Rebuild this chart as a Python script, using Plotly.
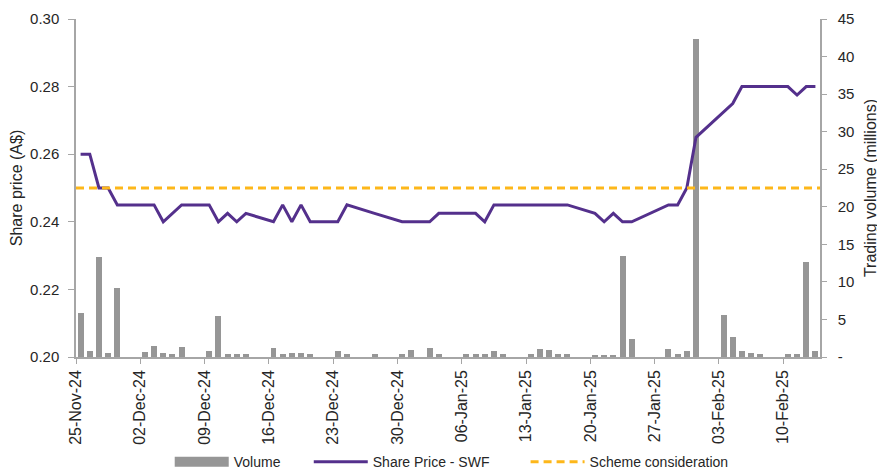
import plotly.graph_objects as go
import pandas as pd

# ---- data ----
dates = [
    "2024-11-25", "2024-11-26", "2024-11-27", "2024-11-28", "2024-11-29",
    "2024-12-02", "2024-12-03", "2024-12-04", "2024-12-05", "2024-12-06",
    "2024-12-09", "2024-12-10", "2024-12-11", "2024-12-12", "2024-12-13",
    "2024-12-16", "2024-12-17", "2024-12-18", "2024-12-19", "2024-12-20",
    "2024-12-23", "2024-12-24", "2024-12-27",
    "2024-12-30", "2024-12-31",
    "2025-01-02", "2025-01-03",
    "2025-01-06", "2025-01-07", "2025-01-08", "2025-01-09", "2025-01-10",
    "2025-01-13", "2025-01-14", "2025-01-15", "2025-01-16", "2025-01-17",
    "2025-01-20", "2025-01-21", "2025-01-22", "2025-01-23", "2025-01-24",
    "2025-01-28", "2025-01-29", "2025-01-30", "2025-01-31",
    "2025-02-03", "2025-02-04", "2025-02-05", "2025-02-06", "2025-02-07",
    "2025-02-10", "2025-02-11", "2025-02-12", "2025-02-13",
]

volume_millions = [
    5.9, 0.8, 13.3, 0.5, 9.2,
    0.7, 1.5, 0.5, 0.4, 1.35,
    0.8, 5.4, 0.4, 0.4, 0.4,
    1.25, 0.4, 0.5, 0.5, 0.4,
    0.75, 0.45, 0.45,
    0.45, 0.9,
    1.25, 0.45,
    0.45, 0.45, 0.45, 0.75, 0.45,
    0.45, 1.1, 0.9, 0.45, 0.45,
    0.3, 0.3, 0.3, 13.5, 2.45,
    1.07, 0.45, 0.75, 42.35,
    5.6, 2.6, 0.75, 0.5, 0.35,
    0.35, 0.35, 12.7, 0.8,
]

share_price = [
    0.26, 0.26, 0.25, 0.25, 0.245,
    0.245, 0.245, 0.24, 0.2425, 0.245,
    0.245, 0.24, 0.2425, 0.24, 0.2425,
    0.24, 0.245, 0.24, 0.245, 0.24,
    0.24, 0.245, 0.2425,
    0.24, 0.24,
    0.24, 0.2425,
    0.2425, 0.2425, 0.24, 0.245, 0.245,
    0.245, 0.245, 0.245, 0.245, 0.245,
    0.2425, 0.24, 0.2425, 0.24, 0.24,
    0.245, 0.245, 0.25, 0.265,
    0.2725, 0.275, 0.28, 0.28, 0.28,
    0.28, 0.2775, 0.28, 0.28,
]

scheme_consideration = 0.25

price_ticks = [0.20, 0.22, 0.24, 0.26, 0.28, 0.30]
volume_ticks = [0, 5, 10, 15, 20, 25, 30, 35, 40, 45]
volume_tick_text = ["-", "5", "10", "15", "20", "25", "30", "35", "40", "45"]

# ---- derived ----
d = pd.to_datetime(dates)
x_mid = d + pd.Timedelta(hours=12)           # each day's slot centre
x_start = d[0]
x_end = d[-1] + pd.Timedelta(days=1)
week_ticks = pd.date_range(x_start, x_end, freq="7D")

GREY = "#969696"
PURPLE = "#54308C"
ORANGE = "#FDB71A"
AXIS = "#A6A6A6"
TXT = "#262626"
FONT = "Liberation Sans, Arial, sans-serif"
NB = "\u00a0"

fig = go.Figure()

fig.add_trace(go.Bar(
    x=x_mid, y=volume_millions, name="Volume", showlegend=False,
    marker=dict(color=GREY, line=dict(width=0)),
    width=0.65 * 86400000, yaxis="y",
))
# legend entry for the volume bars (wide grey block as in the reference)
fig.add_trace(go.Scatter(
    x=[None], y=[None], name="Volume" + NB * 6, mode="lines",
    line=dict(color=GREY, width=14), yaxis="y",
))

fig.add_trace(go.Scatter(
    x=x_mid, y=share_price, name="Share Price - SWF" + NB * 8, mode="lines",
    line=dict(color=PURPLE, width=3), yaxis="y2",
))

fig.add_trace(go.Scatter(
    x=[x_start, x_end], y=[scheme_consideration, scheme_consideration],
    name="Scheme consideration", mode="lines",
    line=dict(color=ORANGE, width=3, dash="8px,5px"), yaxis="y2",
))

fig.update_layout(
    width=877, height=462,
    margin=dict(l=68, r=65, t=11, b=113, autoexpand=False),
    paper_bgcolor="white", plot_bgcolor="white",
    font=dict(family=FONT, size=15, color=TXT),
    bargap=0,
    showlegend=True,
    legend=dict(
        orientation="h", x=0.505, xanchor="center",
        yref="container", y=0.017, yanchor="middle",
        font=dict(family=FONT, size=14, color=TXT),
        bgcolor="rgba(0,0,0,0)",
        traceorder="normal", itemwidth=54,
    ),
    xaxis=dict(
        type="date", range=[x_start, x_end], automargin=False,
        tickvals=week_ticks, tickformat="%d-%b-%y", tickangle=-90,
        tickfont=dict(family=FONT, size=16, color=TXT),
        showline=True, linecolor=AXIS, linewidth=1.5,
        ticks="outside", ticklen=5, tickcolor=AXIS,
        showgrid=False, zeroline=False,
    ),
    yaxis=dict(
        side="right", range=[0, 45], tickvals=volume_ticks, ticktext=volume_tick_text,
        automargin=False,
        tickfont=dict(family=FONT, size=15, color=TXT),
        showline=True, linecolor=AXIS, linewidth=1.5,
        ticks="outside", ticklen=5, tickcolor=AXIS, ticklabelstandoff=8,
        showgrid=False, zeroline=False,
        title=dict(text="Trading volume (millions)",
                   font=dict(family=FONT, size=16, color=TXT), standoff=11),
    ),
    yaxis2=dict(
        overlaying="y", side="left", range=[0.20, 0.30], tickvals=price_ticks,
        tickformat=".2f", automargin=False,
        tickfont=dict(family=FONT, size=15, color=TXT),
        showline=True, linecolor=AXIS, linewidth=1.5,
        ticks="outside", ticklen=6, tickcolor=AXIS, ticklabelstandoff=6,
        showgrid=False, zeroline=False,
        title=dict(text="Share price (A$)",
                   font=dict(family=FONT, size=16, color=TXT), standoff=6),
    ),
)

fig.write_html("out.html")
